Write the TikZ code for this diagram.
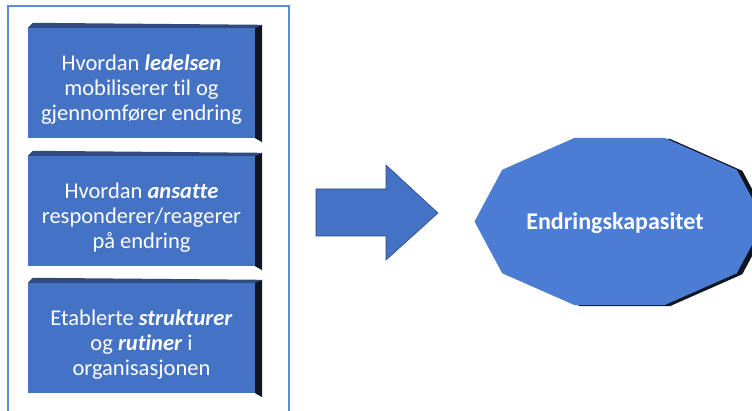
\documentclass[tikz,border=0pt]{standalone}
\usepackage{fontspec}
\setmainfont{Carlito}[Ligatures=NoCommon]
\usetikzlibrary{calc}
\definecolor{frontblue}{HTML}{4472C4}
\definecolor{topblue}{HTML}{2E4A80}
\definecolor{sidedark}{HTML}{0E1621}
\definecolor{framecol}{HTML}{5B8BDA}
\definecolor{capblue}{HTML}{4C7DD4}

\begin{document}
\begin{tikzpicture}[x=1pt,y=-1pt,
    front/.style={fill=frontblue, minimum width=227pt, minimum height=110pt, inner sep=0pt},
    boxtext/.style={text=white, align=center, yshift=-7pt, font=\fontsize{22.5}{25}\selectfont},
    topface/.style={fill=topblue},
    sideface/.style={fill=sidedark}]
    \useasboundingbox (0,0) rectangle (752,411);
    \clip (0,0) rectangle (752,411);
    \draw[framecol, line width=1.5pt] (8,6) rectangle (289,430);

    % three boxes
    \node[front, label={[boxtext]center:Hvordan \textbf{\textit{ledelsen}}\\mobiliserer til og\\gjennomfører endring}] (ledelsen) at (141.5,83) {};
    \node[front, label={[boxtext]center:Hvordan \textbf{\textit{ansatte}}\\responderer/reagerer\\på endring}] (ansatte) at (141.5,211) {};
    \node[front, label={[boxtext]center:Etablerte \textbf{\textit{strukturer}}\\og \textbf{\textit{rutiner}} i\\organisasjonen}] (strukturer) at (141.5,338) {};
    \foreach \b in {ledelsen,ansatte,strukturer} {
      \fill[topface] (\b.north west) -- ++(5,-5) -- ($(\b.north east)+(7,-3)$) -- (\b.north east) -- cycle;
      \fill[sideface] (\b.north east) -- ($(\b.north east)+(7,-3)$) -- ($(\b.south east)+(7,4)$) -- (\b.south east) -- cycle;
    }

    % block arrow
    \filldraw[fill=frontblue, draw=topblue, line width=0.6pt]
      (316,189) -- (386,189) -- (386,165) -- (438,213) -- (386,260) -- (386,236) -- (316,236) -- cycle;

    % decagon
    \begin{scope}[shift={(625,222.5)}, x=145pt, y=-88pt]
      \fill[sidedark] (0:1) foreach \a in {36,72,...,324} {-- (\a:1)} -- cycle;
    \end{scope}
    \begin{scope}[shift={(619.5,221.5)}, x=145pt, y=-88pt]
      \fill[capblue] (0:1) foreach \a in {36,72,...,324} {-- (\a:1)} -- cycle;
    \end{scope}
    \node[text=white, font=\fontsize{24}{25}\selectfont\bfseries] (kapasitet) at (615,223) {Endringskapasitet};
\end{tikzpicture}
\end{document}
